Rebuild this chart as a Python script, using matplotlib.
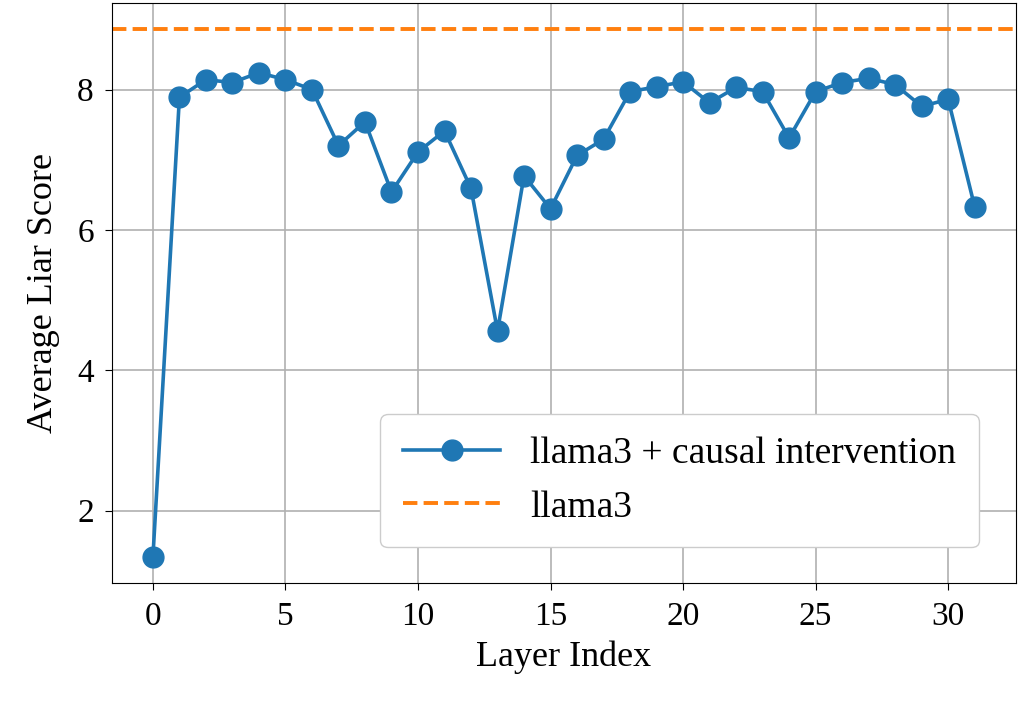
import matplotlib
matplotlib.use("Agg")
import matplotlib.pyplot as plt

layers = list(range(32))
scores = [1.34, 7.89, 8.14, 8.10, 8.24, 8.14, 8.00, 7.20, 7.54, 6.54,
          7.11, 7.41, 6.59, 4.56, 6.77, 6.30, 7.06, 7.29, 7.97, 8.04,
          8.11, 7.81, 8.03, 7.97, 7.31, 7.97, 8.10, 8.16, 8.07, 7.76,
          7.86, 6.33]
baseline = 8.86

plt.rcParams["font.family"] = "Liberation Serif"

fig, ax = plt.subplots(figsize=(10.26, 7.01), dpi=100)
ax.plot(layers, scores, "-o", color="#1f77b4", linewidth=2.6, markersize=15,
        label="llama3 + causal intervention")
ax.axhline(baseline, color="#ff7f0e", linestyle="--", linewidth=2.8, label="llama3")
ax.set_yticks([2, 4, 6, 8])
ax.set_xlabel("Layer Index", fontsize=26, labelpad=6)
ax.set_ylabel("Average Liar Score", fontsize=26, labelpad=12)
ax.tick_params(labelsize=24, pad=8, length=5)
ax.grid(True, color="#b0b0b0", linewidth=1.2)
leg = ax.legend(loc="lower right", fontsize=27, handlelength=2.6, borderpad=0.6,
                bbox_to_anchor=(0.98, 0.03), framealpha=1, fancybox=True)
leg.get_frame().set_edgecolor("#cccccc")
fig.subplots_adjust(left=0.109, right=0.99, top=0.996, bottom=0.168)
fig.savefig("out.png")
